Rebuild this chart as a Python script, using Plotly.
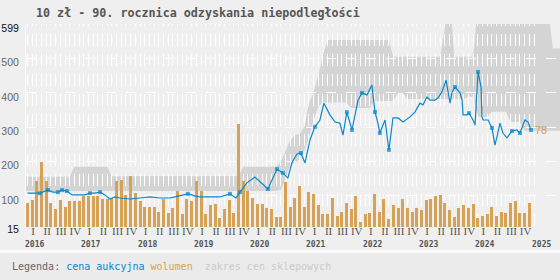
import calendar
import plotly.graph_objects as go

# ---------------- data ----------------
title_text = "10 zł - 90. rocznica odzyskania niepodległości"
start_year = 2016
years = list(range(2016, 2026))
quarter_labels = ["I", "II", "III", "IV"]
y_ticks = [15, 100, 200, 300, 400, 500, 599]

# monthly auction volume (Jan 2016 .. Dec 2024)
volume = [79, 88, 143, 199, 143, 79, 62, 88, 68, 85, 85, 85,
          100, 100, 100, 100, 91, 91, 94, 143, 146, 103, 158, 108,
          85, 68, 68, 68, 53, 91, 50, 65, 114, 47, 91, 85,
          143, 114, 47, 74, 76, 36, 62, 88, 50, 309, 143, 114,
          94, 76, 76, 65, 62, 39, 39, 140, 68, 94, 129, 68,
          111, 106, 74, 47, 47, 94, 42, 53, 79, 62, 100, 24,
          47, 50, 106, 53, 91, 33, 74, 65, 91, 65, 53, 65,
          59, 88, 91, 100, 103, 79, 59, 39, 65, 74, 65, 76,
          36, 42, 47, 68, 42, 53, 50, 79, 85, 50, 50, 78]

# auction price
price_dates = [
    "2016-01-01", "2016-02-18", "2016-03-20", "2016-05-12", "2016-06-14", "2016-07-16",
    "2016-08-12", "2016-09-13", "2016-10-16", "2016-12-07", "2017-01-09", "2017-02-10",
    "2017-03-13", "2017-04-15", "2017-05-17", "2017-06-18", "2017-07-21", "2017-08-23",
    "2017-10-27", "2018-01-01", "2018-03-04", "2018-05-08", "2018-07-12", "2018-08-14",
    "2018-09-16", "2018-11-07", "2018-12-22", "2019-01-24", "2019-03-28", "2019-06-01",
    "2019-08-06", "2019-09-14", "2019-10-10", "2019-11-25", "2020-01-16", "2020-03-07",
    "2020-04-09", "2020-06-07", "2020-07-15", "2020-08-17", "2020-09-12", "2020-10-15",
    "2020-11-10", "2020-12-06", "2021-01-08", "2021-02-09", "2021-03-12", "2021-04-07",
    "2021-05-16", "2021-06-18", "2021-07-20", "2021-08-09", "2021-09-04", "2021-10-07",
    "2021-10-26", "2021-11-15", "2021-12-11", "2022-01-13", "2022-02-13", "2022-03-04",
    "2022-03-23", "2022-04-05", "2022-05-08", "2022-06-03", "2022-06-29", "2022-08-01",
    "2022-09-03", "2022-10-18", "2022-11-19", "2022-12-22", "2023-01-11", "2023-02-06",
    "2023-02-24", "2023-03-28", "2023-04-16", "2023-05-12", "2023-06-08", "2023-06-21",
    "2023-07-04", "2023-07-17", "2023-08-06", "2023-09-08", "2023-09-21", "2023-09-27",
    "2023-10-23", "2023-11-05", "2023-12-01", "2023-12-14", "2024-01-03", "2024-01-23",
    "2024-01-29", "2024-02-05", "2024-03-07", "2024-04-02", "2024-04-21", "2024-05-04",
    "2024-05-24", "2024-06-12", "2024-07-08", "2024-08-10", "2024-09-12", "2024-10-01",
    "2024-11-03", "2024-11-23", "2024-12-12"]
price_values = [
    108, 108, 108, 117, 111, 111,
    117, 114, 103, 103, 103, 108,
    108, 111, 103, 91, 97, 94,
    91, 94, 97, 94, 94, 97,
    100, 106, 100, 97, 97, 97,
    106, 94, 111, 138, 155, 132,
    120, 178, 167, 152, 196, 222,
    225, 196, 263, 301, 321, 370,
    336, 315, 312, 277, 344, 292,
    330, 378, 400, 394, 423, 344,
    312, 283, 321, 234, 327, 327,
    315, 330, 344, 370, 365, 388,
    379, 379, 385, 402, 437, 408,
    370, 402, 417, 400, 379, 336,
    336, 341, 321, 306, 461, 417,
    330, 321, 321, 298, 248, 272,
    312, 283, 269, 289, 292, 283,
    321, 315, 292]
marked_dates = [
    "2016-03-20", "2016-05-12", "2016-07-16", "2016-08-12", "2016-09-13", "2017-02-10",
    "2017-04-15", "2018-11-07", "2019-08-06", "2019-10-10", "2020-04-09", "2020-06-07",
    "2020-07-15", "2020-11-10", "2021-02-09", "2021-09-04", "2021-10-07", "2021-12-11",
    "2022-03-04", "2022-04-05", "2022-06-03", "2023-08-06", "2023-11-05", "2024-01-03",
    "2024-04-02", "2024-08-10", "2024-10-01", "2024-12-12"]

# shop price range, one value per month from Jan 2016
shop_max = ([156] * 10 + [185] * 8 + [157] * 28 + [185] * 8 +
            [200, 230, 262, 277, 280, 300, 370, 402, 450, 510] +
            [554] * 14 + [505] * 11 + [590, 700] + [505] * 5 + [650] * 16 + [529] * 3)
shop_min = ([114] * 54 + [118, 150, 190, 195, 207, 230, 270, 320, 360] +
            [372] * 6 + [356] * 5 + [376] * 5 + [400] * 2 + [382] * 13 + [389] * 2 +
            [330] * 3 + [345] * 4 + [315] * 3 + [290] * 9)

# ---------------- helpers ----------------
def month_index(s):
    y, mo, d = map(int, s.split("-"))
    days = calendar.monthrange(y, mo)[1]
    return (y - start_year) * 12 + (mo - 1) + (d - 1) / days

price_x = [month_index(d) for d in price_dates]
marker_sizes = [4 if d in marked_dates else 0 for d in price_dates]
months = list(range(len(volume)))

X_RANGE = [-0.32, 113.54]
Y_RANGE = [9.5, 600.5]

BLUE = "#0a88cc"
ORANGE = "#d6a356"
BAND = "#d4d4d4"
BG = "#efefef"

fig = go.Figure()

# band as a shape below gridlines
band_x = list(range(len(shop_max)))
pts_top = [(X_RANGE[0], shop_max[0])] + list(zip(band_x, shop_max))
pts_bot = list(zip(band_x, shop_min))[::-1] + [(X_RANGE[0], shop_min[0])]
path = "M " + " L ".join(f"{x},{y}" for x, y in pts_top + pts_bot) + " Z"
fig.add_shape(type="path", path=path, xref="x", yref="y", layer="below",
              fillcolor=BAND, line=dict(width=0))

fig.add_trace(go.Bar(x=months, y=volume, width=0.64, marker=dict(color=ORANGE, line=dict(width=0)),
                     hoverinfo="skip"))
fig.add_trace(go.Scatter(x=price_x, y=price_values, mode="lines+markers",
                         line=dict(color=BLUE, width=1.2),
                         marker=dict(symbol="square", size=marker_sizes, color=BLUE, line=dict(width=0))))

q_vals = [3 * q + 1.2 for q in range(len(years[:-1]) * 4)]
q_text = quarter_labels * len(years[:-1])

fig.update_xaxes(range=X_RANGE, showgrid=False, zeroline=False, showline=False,
                 tickmode="array", tickvals=q_vals, ticktext=q_text, ticks="",
                 tickfont=dict(family="Liberation Serif", size=11, color="#555"),
                 ticklabelstandoff=-4,
                 minor=dict(tickmode="array", tickvals=list(range(0, 109)), showgrid=True,
                            gridcolor="white", gridwidth=1, griddash="2px,8px,10px,0px", ticks=""))

y_text = []
for v in y_ticks:
    if v in (15, 599):
        y_text.append(f'<span style="color:#111">{v}</span>')
    else:
        y_text.append(str(v))
fig.update_yaxes(range=Y_RANGE, showgrid=False, zeroline=False, showline=True, linecolor="white",
                 linewidth=1, tickmode="array", tickvals=y_ticks, ticktext=y_text, ticks="",
                 tickfont=dict(family="Liberation Sans", size=10.5, color="#666"),
                 ticklabelstandoff=4, ticklabelshift=4,
                 minor=dict(tickmode="array", tickvals=[100, 200, 300, 400, 500], showgrid=True,
                            gridcolor="white", gridwidth=1, griddash="10px,10px", ticks=""))

annotations = []
for yr in years:
    annotations.append(dict(x=(yr - start_year) * 12, y=0, xref="x", yref="paper",
                            text=f"<b>{yr}</b>", showarrow=False, xanchor="center", yanchor="middle",
                            xshift=7, yshift=-17,
                            font=dict(family="DejaVu Sans Mono", size=8, color="#555")))
annotations.append(dict(x=0, y=1, xref="paper", yref="paper", text=f"<b>{title_text}</b>",
                        showarrow=False, xanchor="left", yanchor="middle", xshift=8, yshift=11.5,
                        font=dict(family="DejaVu Sans Mono", size=11.7, color="#555")))
legend_html = ('<span style="color:#666">Legenda:</span> '
               f'<span style="color:{BLUE}">cena aukcyjna</span> '
               '<span style="color:#d9a24e">wolumen</span>\u00a0 '
               '<span style="color:#cccccc">zakres cen sklepowych</span>')
annotations.append(dict(x=0, y=0, xref="paper", yref="paper", text=legend_html, showarrow=False,
                        xanchor="left", yanchor="middle", xshift=-16, yshift=-39.7,
                        font=dict(family="DejaVu Sans Mono", size=10, color="#666")))
annotations.append(dict(x=price_x[-1], y=price_values[-1], xref="x", yref="y",
                        text=str(volume[-1]), showarrow=False, xanchor="left", yanchor="middle",
                        xshift=2, font=dict(family="Liberation Sans", size=11, color="#d9a24e")))

shapes = [
    dict(type="rect", xref="paper", yref="paper", x0=-0.06, x1=1.0, y0=-0.1296, y1=-0.1133,
         fillcolor="#fafafa", line=dict(width=0), layer="below"),
    dict(type="rect", xref="paper", yref="paper", x0=-0.06, x1=1.0, y0=-0.27, y1=-0.1296,
         fillcolor="#ebebeb", line=dict(width=0), layer="below"),
]
for s in shapes:
    fig.add_shape(**s)

fig.update_layout(width=560, height=280, margin=dict(l=26, r=0, t=24, b=53),
                  paper_bgcolor=BG, plot_bgcolor=BG, showlegend=False,
                  annotations=annotations, bargap=0)

fig.write_html("out.html")
